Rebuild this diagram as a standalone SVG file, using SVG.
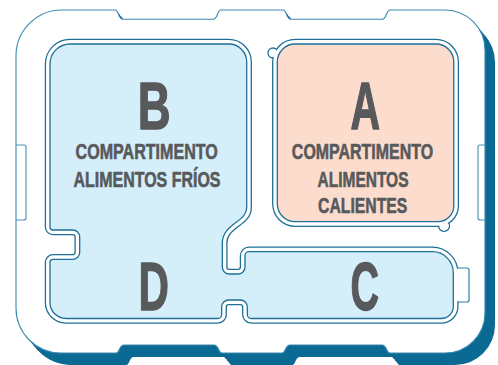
<svg xmlns="http://www.w3.org/2000/svg" width="498" height="365" viewBox="0 0 498 365">
<defs>
<style>
.shadow{fill:#0b6a93}
.tray{fill:#fff;stroke:#3c89b0;stroke-width:1.1}
.tab{fill:none;stroke:#4a92b5;stroke-width:1.1}
.dbl-outer{fill:none;stroke:#1d6f98;stroke-width:10.5;stroke-linejoin:round}
.dbl-gap{fill:none;stroke:#fff;stroke-width:7.9;stroke-linejoin:round}
.blue{fill:#d4eefa;stroke:#1d6f98;stroke-width:1.3}
.peach{fill:#fcdccd;stroke:#1d6f98;stroke-width:1.3}
.outline{fill:#fff;stroke:#1d6f98;stroke-width:1.3}
.cover{fill:#fff;stroke:none}
.big{font-family:"Liberation Sans",Arial,sans-serif;font-weight:bold;fill:#58595b;stroke:#58595b;stroke-width:1.4;stroke-linejoin:round;text-anchor:middle}
.lbl{font-family:"Liberation Sans",Arial,sans-serif;font-weight:bold;font-size:22.5px;fill:#58595b;stroke:#58595b;stroke-width:0.6;stroke-linejoin:round;text-anchor:middle}
</style>
<path id="trayShape" d="M16,56 A46,46 0 0 1 62,10 H115 C119,10 118,19.3 123,19.3 H213 C218,19.3 217,10 221,10 H283 C287,10 286,19.3 291,19.3 H382 C387,19.3 386,10 390,10 H445 A40,40 0 0 1 485,50 V313 A40,40 0 0 1 445,353 H390 C386,353 387,345 382,345 H290 C285,345 286,353 282,353 H222 C218,353 219,345 214,345 H124 C119,345 120,353 116,353 H61 A45,45 0 0 1 16,308 Z"/>
<path id="bdcShape" d="M50,64 A20,20 0 0 1 70,44 H228.7 A18,18 0 0 1 246.7,62 V208 C246.7,222 222.3,224 222.3,243 V267 A7,7 0 0 0 229.3,274 H238 A7,7 0 0 0 245,267 V255.7 A4,4 0 0 1 249,251.7 H432.3 A21,21 0 0 1 453.3,272.7 V306.5 A12,12 0 0 1 441.3,318.5 H251.3 A4,4 0 0 1 247.3,314.5 V307 A7,7 0 0 0 240.3,300 H228.7 A7,7 0 0 0 221.7,307 V314.5 A4,4 0 0 1 217.7,318.5 H66 A16,16 0 0 1 50,302.5 V262.3 A3,3 0 0 1 53,259.3 H72.7 A7,7 0 0 0 79.7,252.3 V237 A7,7 0 0 0 72.7,230 H53 A3,3 0 0 1 50,227 Z"/>
</defs>

<g id="tray">
<use href="#trayShape" class="shadow" transform="translate(2.5,3)"/>
<use href="#trayShape" class="shadow" transform="translate(5,6)"/>
<use href="#trayShape" class="shadow" transform="translate(7.5,9)"/>
<use href="#trayShape" class="shadow" transform="translate(10,12)"/>
<use href="#trayShape" class="tray"/>
<path class="tab" d="M16,145 H24 Q26,145 26,147 V218 Q26,220 24,220 H16"/>
<path class="tab" d="M485,145 H480 Q478,145 478,147 V218 Q478,220 480,220 H485"/>
</g>

<g id="compartment-bdc">
<use href="#bdcShape" class="dbl-outer"/>
<use href="#bdcShape" class="dbl-gap"/>
<use href="#bdcShape" class="blue"/>
<rect class="cover" x="457" y="268.7" width="3" height="32.6"/>
<path class="tab" style="stroke:#2f7ca3;stroke-width:1.2" d="M457.9,268 H467 Q469,268 469,270 V300 Q469,302 467,302 H457.9"/>
</g>

<g id="compartment-a">
<circle class="outline" cx="273" cy="53" r="5"/>
<circle class="outline" cx="444" cy="225.8" r="5.5"/>
<path class="outline" d="M272.7,62 A22.6,22.6 0 0 1 295.3,39.4 H435.8 A22.6,22.6 0 0 1 458.4,62 V205.7 A20.6,20.6 0 0 1 437.8,226.3 H295.3 A22.6,22.6 0 0 1 272.7,203.7 Z"/>
<circle class="cover" cx="273" cy="53" r="4.1"/>
<circle class="cover" cx="444" cy="225.8" r="4.6"/>
<path class="peach" d="M277.3,62 A18,18 0 0 1 295.3,44 H435.8 A18,18 0 0 1 453.8,62 V205.7 A16,16 0 0 1 437.8,221.7 H295.3 A18,18 0 0 1 277.3,203.7 Z"/>
</g>

<g id="label-b">
<text class="big" font-size="66" transform="translate(154.2,129.3) scale(0.69,1)">B</text>
<text class="lbl" transform="translate(146.7,159.2) scale(0.715,1)">COMPARTIMENTO</text>
<text class="lbl" transform="translate(147,186.7) scale(0.71,1)">ALIMENTOS FRÍOS</text>
</g>

<g id="label-a">
<text class="big" font-size="66" transform="translate(365.2,129.3) scale(0.62,1)">A</text>
<text class="lbl" transform="translate(362.5,159.2) scale(0.71,1)">COMPARTIMENTO</text>
<text class="lbl" transform="translate(363,186.7) scale(0.69,1)">ALIMENTOS</text>
<text class="lbl" transform="translate(362.7,213) scale(0.7,1)">CALIENTES</text>
</g>

<g id="label-d">
<text class="big" font-size="68" transform="translate(153.6,310) scale(0.62,1)">D</text>
</g>

<g id="label-c">
<text class="big" font-size="68" transform="translate(364.7,310) scale(0.58,1)">C</text>
</g>

<g id="connectors"></g>
</svg>
